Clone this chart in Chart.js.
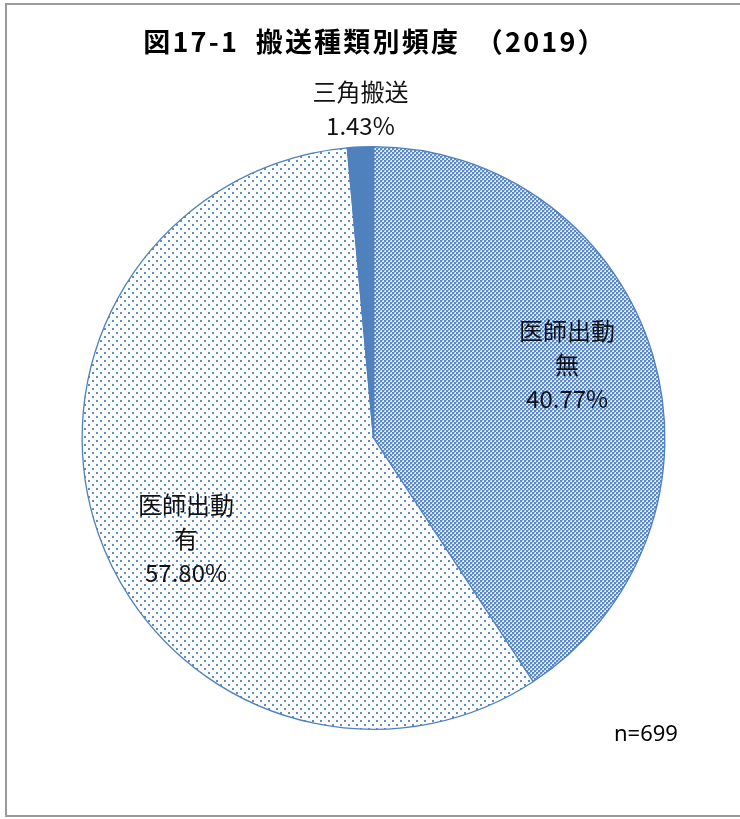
<!DOCTYPE html>
<html>
<head>
<meta charset="utf-8">
<script src="https://cdn.jsdelivr.net/npm/chart.js@4.4.1/dist/chart.umd.min.js"></script>
<style>
html,body{margin:0;padding:0;background:#fff;}
#wrap{position:relative;width:740px;height:819px;}
</style>
</head>
<body>
<div id="wrap"><canvas id="c" width="740" height="819"></canvas></div>
<script>
const titleText = "図17-1  搬送種類別頻度　（2019）";
const categories = [["医師出動", "無"], ["医師出動", "有"], ["三角搬送"]];
const counts = [285, 404, 10];
const percentLabels = ["40.77%", "57.80%", "1.43%"];
const noteText = "n=699";

const BLUE = "#4F81BD";

function makePattern(kind) {
  const t = document.createElement("canvas");
  const g = t.getContext("2d");
  if (kind === "check") {
    t.width = 4; t.height = 4;
    g.fillStyle = "#e4ebf6"; g.fillRect(0, 0, 4, 4);
    g.fillStyle = "#5b88c8";
    g.fillRect(0, 0, 2, 2);
    g.fillRect(2, 2, 2, 2);
    g.fillStyle = "#a7bfe2";
    g.fillRect(2, 0, 1, 1);
    g.fillRect(0, 2, 1, 1);
  } else {
    t.width = 8; t.height = 8;
    g.fillStyle = "#ffffff"; g.fillRect(0, 0, 8, 8);
    g.fillStyle = "#5f8dcb";
    g.fillRect(0, 0, 2, 2);
    g.fillRect(4, 4, 2, 2);
  }
  return document.getElementById("c").getContext("2d").createPattern(t, "repeat");
}

const labelPlugin = {
  id: "sliceLabels",
  afterDatasetsDraw(chart, args, opts) {
    const ctx = chart.ctx;
    const meta = chart.getDatasetMeta(0);
    ctx.save();
    ctx.fillStyle = "#111";
    ctx.font = "24px 'Noto Sans CJK JP', sans-serif";
    ctx.textAlign = "center";
    ctx.textBaseline = "middle";
    meta.data.forEach((arc, i) => {
      const p = arc.getProps(["x", "y", "startAngle", "endAngle", "outerRadius"], true);
      const place = opts.place[i];
      const mid = (p.startAngle + p.endAngle) / 2 + place.shift * Math.PI / 180;
      const r = p.outerRadius * place.r;
      const cx = p.x + Math.cos(mid) * r;
      const cy = p.y + Math.sin(mid) * r;
      const lines = [...categories[i], percentLabels[i]];
      const lh = opts.lineHeight;
      const y0 = cy - (lines.length - 1) * lh / 2;
      lines.forEach((s, k) => ctx.fillText(s, cx, y0 + k * lh));
    });
    ctx.restore();
  }
};

const framePlugin = {
  id: "frame",
  afterDraw(chart) {
    const ctx = chart.ctx;
    ctx.save();
    ctx.strokeStyle = "#9a9a9a";
    ctx.lineWidth = 2;
    ctx.strokeRect(6, 4, 760, 812);
    ctx.fillStyle = "#000";
    ctx.font = "bold 27px 'Noto Sans CJK JP', sans-serif";
    ctx.letterSpacing = "2.2px";
    ctx.textAlign = "center";
    ctx.textBaseline = "middle";
    ctx.fillText(titleText, 375, 42);
    ctx.letterSpacing = "0px";
    ctx.font = "22px 'Noto Sans', 'Open Sans', sans-serif";
    ctx.textAlign = "left";
    ctx.fillText(noteText, 614, 735);
    ctx.restore();
  }
};

new Chart(document.getElementById("c"), {
  type: "pie",
  data: {
    labels: categories.map(c => c.join("")),
    datasets: [{
      data: counts,
      backgroundColor: [makePattern("check"), makePattern("dots"), BLUE],
      borderColor: BLUE,
      borderWidth: 1.3,
      hoverOffset: 0,
      offset: 0
    }]
  },
  options: {
    responsive: false,
    animation: false,
    events: [],
    layout: { padding: { left: 81.5, right: 74.5, top: 146, bottom: 89 } },
    plugins: {
      legend: { display: false },
      title: { display: false },
      tooltip: { enabled: false },
      sliceLabels: {
        lineHeight: 34,
        place: [
          { r: 0.71, shift: -4 },
          { r: 0.73, shift: -9 },
          { r: 1.13, shift: 0.3 }
        ]
      }
    }
  },
  plugins: [labelPlugin, framePlugin]
});
</script>
</body>
</html>
